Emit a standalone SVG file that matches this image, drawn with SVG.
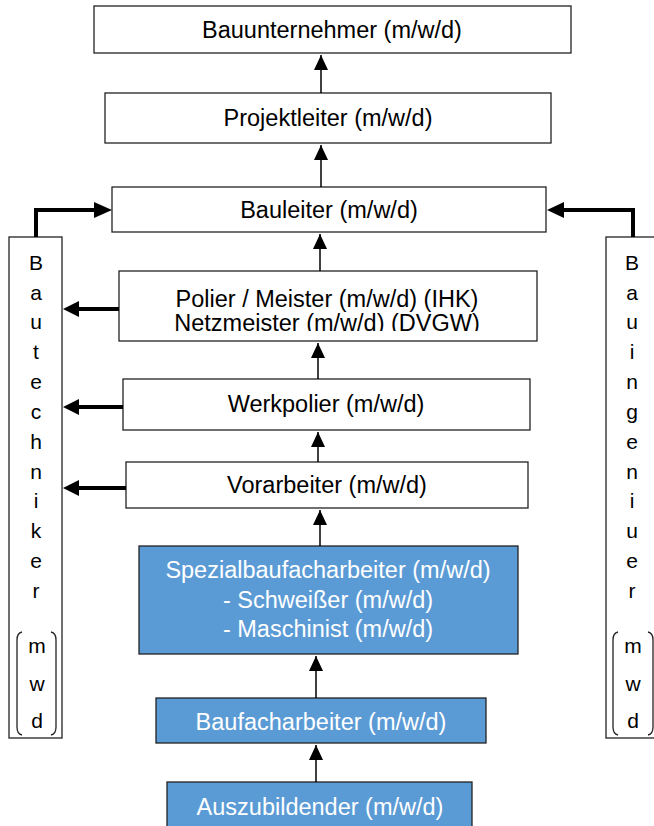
<svg xmlns="http://www.w3.org/2000/svg" width="654" height="826" viewBox="0 0 654 826">
<style>
.box{fill:#fff;stroke:#222;stroke-width:1.3}
.blue{fill:#5b9bd5;stroke:#222;stroke-width:1.3}
.t{font-family:"Liberation Sans",Arial,sans-serif;font-size:23.5px;fill:#000;text-anchor:middle}
.tw{font-family:"Liberation Sans",Arial,sans-serif;font-size:23.5px;fill:#fff;text-anchor:middle}
.s{font-family:"Liberation Sans",Arial,sans-serif;font-size:21px;fill:#000;text-anchor:middle}
.thin{stroke:#000;stroke-width:1.5;fill:none}
.thick{stroke:#000;stroke-width:4;fill:none}
.br{stroke:#222;stroke-width:1.3;fill:none}
</style>
<defs>
<marker id="ah" viewBox="0 0 15 14" refX="15" refY="7" markerWidth="15" markerHeight="14" markerUnits="userSpaceOnUse" orient="auto">
<path d="M0,0 L15,7 L0,14 Z" fill="#000"/>
</marker>
<clipPath id="polclip"><rect x="119" y="271" width="418" height="60"/></clipPath>
</defs>

<g id="bauunternehmer">
<rect class="box" x="94" y="6" width="477" height="47"/>
<text class="t" x="332" y="38">Bauunternehmer (m/w/d)</text>
</g>
<g id="projektleiter">
<rect class="box" x="105" y="93" width="446" height="50"/>
<text class="t" x="328" y="126">Projektleiter (m/w/d)</text>
</g>
<g id="bauleiter">
<rect class="box" x="112" y="187" width="434" height="45"/>
<text class="t" x="329" y="218">Bauleiter (m/w/d)</text>
</g>
<g id="polier">
<rect class="box" x="119" y="271" width="418" height="70"/>
<g clip-path="url(#polclip)">
<text class="t" x="327" y="307">Polier / Meister (m/w/d) (IHK)</text>
<text class="t" x="327" y="331">Netzmeister (m/w/d) (DVGW)</text>
</g>
</g>
<g id="werkpolier">
<rect class="box" x="123" y="379" width="407" height="51"/>
<text class="t" x="326" y="412">Werkpolier (m/w/d)</text>
</g>
<g id="vorarbeiter">
<rect class="box" x="126" y="462" width="402" height="46"/>
<text class="t" x="327" y="493">Vorarbeiter (m/w/d)</text>
</g>
<g id="spezialbaufacharbeiter">
<rect class="blue" x="139" y="546" width="379" height="108"/>
<text class="tw" x="328" y="578">Spezialbaufacharbeiter (m/w/d)</text>
<text class="tw" x="328" y="608">- Schweißer (m/w/d)</text>
<text class="tw" x="328" y="637">- Maschinist (m/w/d)</text>
</g>
<g id="baufacharbeiter">
<rect class="blue" x="156" y="698" width="330" height="45"/>
<text class="tw" x="321" y="730">Baufacharbeiter (m/w/d)</text>
</g>
<g id="auszubildender">
<rect class="blue" x="167" y="782" width="305" height="60"/>
<text class="tw" x="320" y="815">Auszubildender (m/w/d)</text>
</g>

<g id="bautechniker">
<rect class="box" x="9" y="237" width="53" height="501"/>
<text class="s" x="36" y="270">B</text>
<text class="s" x="36" y="300">a</text>
<text class="s" x="36" y="329">u</text>
<text class="s" x="36" y="359">t</text>
<text class="s" x="36" y="389">e</text>
<text class="s" x="36" y="419">c</text>
<text class="s" x="36" y="449">h</text>
<text class="s" x="36" y="479">n</text>
<text class="s" x="36" y="508">i</text>
<text class="s" x="36" y="538">k</text>
<text class="s" x="36" y="568">e</text>
<text class="s" x="36" y="598">r</text>
<path class="br" d="M22,632 Q17,633 17,640 L17,727 Q17,734 22,735"/>
<path class="br" d="M51,632 Q56,633 56,640 L56,727 Q56,734 51,735"/>
<text class="s" x="37" y="653">m</text>
<text class="s" x="37" y="691">w</text>
<text class="s" x="37" y="728">d</text>
</g>

<g id="bauingenieur">
<rect class="box" x="606" y="237" width="53" height="501"/>
<text class="s" x="632" y="270">B</text>
<text class="s" x="632" y="300">a</text>
<text class="s" x="632" y="329">u</text>
<text class="s" x="632" y="359">i</text>
<text class="s" x="632" y="389">n</text>
<text class="s" x="632" y="419">g</text>
<text class="s" x="632" y="449">e</text>
<text class="s" x="632" y="479">n</text>
<text class="s" x="632" y="508">i</text>
<text class="s" x="632" y="538">u</text>
<text class="s" x="632" y="568">e</text>
<text class="s" x="632" y="598">r</text>
<path class="br" d="M618,632 Q613,633 613,640 L613,727 Q613,734 618,735"/>
<path class="br" d="M648,632 Q653,633 653,640 L653,727 Q653,734 648,735"/>
<text class="s" x="633" y="653">m</text>
<text class="s" x="633" y="691">w</text>
<text class="s" x="633" y="728">d</text>
</g>

<g id="connectors">
<path class="thin" d="M321,93 V55" marker-end="url(#ah)"/>
<path class="thin" d="M321,187 V145" marker-end="url(#ah)"/>
<path class="thin" d="M320,271 V234" marker-end="url(#ah)"/>
<path class="thin" d="M318,379 V343" marker-end="url(#ah)"/>
<path class="thin" d="M318,462 V432" marker-end="url(#ah)"/>
<path class="thin" d="M320,546 V510" marker-end="url(#ah)"/>
<path class="thin" d="M316,698 V656" marker-end="url(#ah)"/>
<path class="thin" d="M316,782 V745" marker-end="url(#ah)"/>
<path class="thick" d="M36,237 V210 H96"/>
<path d="M112,210 L94,202 L94,218 Z" fill="#000"/>
<path class="thick" d="M633,237 V210 H562"/>
<path d="M547,210 L564,202 L564,218 Z" fill="#000"/>
<path class="thick" d="M119,309 H77"/>
<path d="M63,309 L79,301 L79,317 Z" fill="#000"/>
<path class="thick" d="M123,407 H77"/>
<path d="M63,407 L79,399 L79,415 Z" fill="#000"/>
<path class="thick" d="M126,488 H77"/>
<path d="M63,488 L79,480 L79,496 Z" fill="#000"/>
</g>
</svg>
